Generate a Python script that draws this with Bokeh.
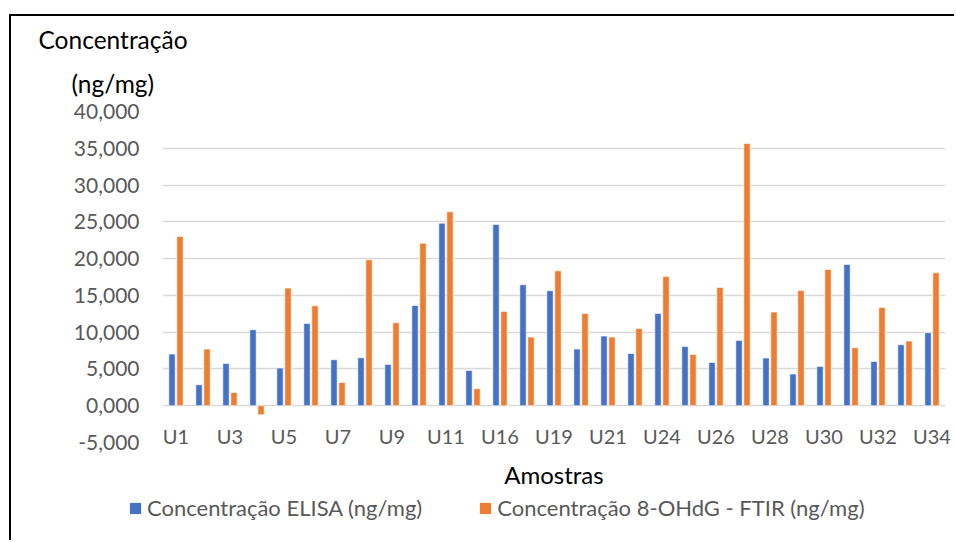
from bokeh.plotting import figure
from bokeh.models import (ColumnDataSource, FixedTicker, CustomJSTickFormatter,
                          Title, Legend, LegendItem)
from bokeh.transform import dodge
from bokeh.embed import file_html
from bokeh.resources import INLINE

# Samples and measured concentrations (ng/mg)
samples = ["U1", "U2", "U3", "U4", "U5", "U6", "U7", "U8", "U9", "U10", "U11",
           "U15", "U16", "U18", "U19", "U20", "U21", "U23", "U24", "U25", "U26",
           "U27", "U28", "U29", "U30", "U31", "U32", "U33", "U34"]
elisa = [7.02, 2.85, 5.75, 10.33, 5.12, 11.19, 6.25, 6.52, 5.62, 13.63, 24.82,
         4.80, 24.64, 16.44, 15.63, 7.70, 9.47, 7.11, 12.55, 8.06, 5.89,
         8.88, 6.48, 4.30, 5.34, 19.20, 6.02, 8.29, 9.92]
ftir = [23.01, 7.70, 1.81, -1.22, 15.99, 13.59, 3.17, 19.84, 11.28, 22.10, 26.36,
        2.31, 12.82, 9.33, 18.34, 12.55, 9.33, 10.51, 17.57, 6.98, 16.08,
        35.64, 12.73, 15.67, 18.52, 7.88, 13.36, 8.79, 18.07]
y_ticks = [-5, 0, 5, 10, 15, 20, 25, 30, 35, 40]
series_names = ["Concentração ELISA (ng/mg)", "Concentração 8-OHdG - FTIR (ng/mg)"]

BLUE = "#4472C4"
ORANGE = "#ED7D31"
GREY = "#595959"
FONT = "Lato"

src = ColumnDataSource(dict(sample=samples, elisa=elisa, ftir=ftir))

# ---- main chart -------------------------------------------------------------
p = figure(x_range=samples, y_range=(y_ticks[0], y_ticks[-1]),
           width=945, height=480, output_backend="svg", toolbar_location=None,
           title=None, min_border_left=151, min_border_right=11,
           min_border_top=95, min_border_bottom=54)
p.styles = {"margin-left": "9px", "margin-top": "14px",
            "border-left": "2px solid black", "border-top": "2px solid black"}
p.x_range.range_padding = 0
p.outline_line_color = None
p.background_fill_color = "white"
p.border_fill_color = "white"

r1 = p.vbar(x=dodge("sample", -0.148, range=p.x_range), top="elisa", width=0.235,
            source=src, fill_color=BLUE, line_color="white", line_width=0.6)
r2 = p.vbar(x=dodge("sample", 0.148, range=p.x_range), top="ftir", width=0.235,
            source=src, fill_color=ORANGE, line_color="white", line_width=0.6)

# y axis: comma as decimal separator
p.yaxis.ticker = FixedTicker(ticks=y_ticks)
p.yaxis.formatter = CustomJSTickFormatter(code="return tick.toFixed(3).replace('.', ',')")
p.yaxis.axis_line_color = None
p.yaxis.major_tick_line_color = None
p.yaxis.minor_tick_line_color = None
p.yaxis.major_tick_out = 0
p.yaxis.major_label_standoff = 23
p.yaxis.major_label_text_font = FONT
p.yaxis.major_label_text_font_size = "21px"
p.yaxis.major_label_text_color = GREY

p.ygrid.grid_line_color = "#D9D9D9"
p.ygrid.grid_line_width = 1.4
p.xgrid.grid_line_color = None

# x axis: every second sample named, names sitting on the lowest gridline
p.xaxis.axis_line_color = None
p.xaxis.major_tick_line_color = None
p.xaxis.minor_tick_line_color = None
p.xaxis.major_tick_out = 0
p.xaxis.formatter = CustomJSTickFormatter(code="return (index % 2 == 0) ? tick : ''")
p.xaxis.major_label_text_font = FONT
p.xaxis.major_label_text_font_size = "20px"
p.xaxis.major_label_text_color = GREY
p.xaxis.major_label_standoff = -19
p.xaxis.axis_label = "Amostras"
p.xaxis.axis_label_text_font = FONT
p.xaxis.axis_label_text_font_style = "normal"
p.xaxis.axis_label_text_font_size = "24px"
p.xaxis.axis_label_text_color = "black"
p.xaxis.axis_label_standoff = 9

# y axis title, set horizontally above the ticks
p.add_layout(Title(text="(ng/mg)", align="left", offset=-91, standoff=27,
                   text_font=FONT, text_font_size="24.5px",
                   text_font_style="normal", text_color="black"), "above")
p.add_layout(Title(text="Concentração", align="left", offset=-124, standoff=0,
                   text_font=FONT, text_font_size="24.5px",
                   text_font_style="normal", text_color="black"), "above")

# ---- legend strip under the chart -------------------------------------------
lg = figure(width=945, height=46, x_range=(0, 1), y_range=(0, 1),
            x_axis_type=None, y_axis_type=None, output_backend="svg",
            toolbar_location=None, title=None, min_border=0)
lg.styles = {"display": "block", "margin-left": "9px",
             "border-left": "2px solid black"}
lg.outline_line_color = None
lg.xgrid.visible = False
lg.ygrid.visible = False
# zero-width swatch renderers: they only lend their colours to the legend
sw_blue = lg.vbar(x="elisa", top="elisa", width=0, source=src,
                  fill_color=BLUE, line_color=None)
sw_orange = lg.vbar(x="ftir", top="ftir", width=0, source=src,
                    fill_color=ORANGE, line_color=None)
legend = Legend(items=[LegendItem(label=series_names[0], renderers=[sw_blue]),
                       LegendItem(label=series_names[1], renderers=[sw_orange])],
                location=(117, 19), orientation="horizontal",
                glyph_width=14, glyph_height=14, label_standoff=5, spacing=56,
                padding=0, margin=0, border_line_color=None,
                background_fill_alpha=0,
                label_text_font=FONT, label_text_font_size="22px",
                label_text_color=GREY)
lg.add_layout(legend)

open("out.html", "w").write(file_html([p, lg], INLINE))
